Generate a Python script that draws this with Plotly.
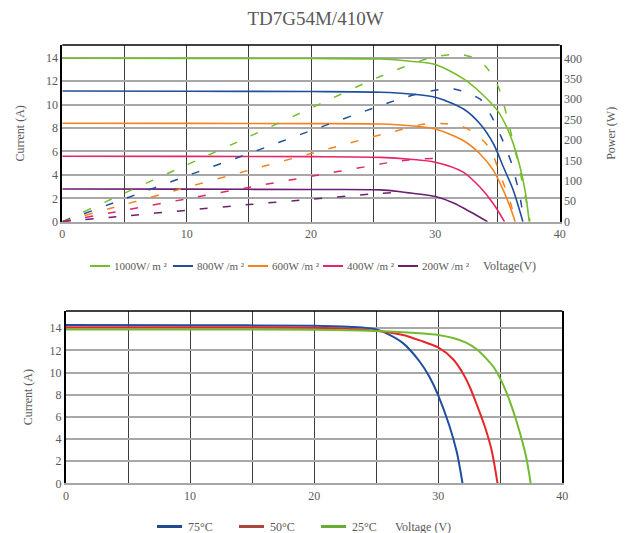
import plotly.graph_objects as go

FONT = "Liberation Serif"
TXT = "#595959"

# ---------------- Top chart: irradiance ----------------
irr_names = ["1000W/ m ²", "800W /m ²", "600W /m ²", "400W /m ²", "200W /m ²"]
irr_colors = ["#76bd2c", "#1f4e9c", "#f5821f", "#e6246e", "#6c1f70"]

# I-V curves (voltage V, current A)
iv_v_1000 = [0, 10, 20, 25.6, 28, 30, 32.27, 33.6, 35, 35.75, 36.28, 36.82, 37.22, 37.55]
iv_i_1000 = [13.97, 13.96, 13.94, 13.9, 13.71, 13.43, 12.2, 11.06, 9.49, 8.06, 6.63, 4.63, 2.63, 0]
iv_v_800 = [0, 10, 20, 25.6, 28, 30, 32.27, 33.6, 34.68, 35.48, 36.28, 37.04]
iv_i_800 = [11.17, 11.15, 11.12, 11.06, 10.91, 10.63, 9.63, 8.35, 6.64, 4.65, 2.65, 0]
iv_v_600 = [0, 10, 20, 25.6, 28, 30, 32.27, 33.6, 34.68, 35.48, 36.02, 36.42]
iv_i_600 = [8.41, 8.4, 8.38, 8.35, 8.2, 7.92, 6.92, 5.79, 4.36, 2.65, 1.23, 0]
iv_v_400 = [0, 10, 20, 25.6, 28, 30, 32.27, 33.6, 34.68, 35.56]
iv_i_400 = [5.59, 5.58, 5.56, 5.5, 5.34, 5.08, 4.22, 2.94, 1.51, 0]
iv_v_200 = [0, 10, 20, 25.6, 27.2, 28, 30, 31.47, 32.8, 34.2]
iv_i_200 = [2.79, 2.78, 2.75, 2.72, 2.56, 2.45, 2.15, 1.6, 0.85, 0]

# P-V curves (voltage V, power W)
pv_v_1000 = [0, 5, 10, 15, 20, 25.6, 29.6, 31.87, 33.34, 34.1, 34.68, 35.08, 35.48, 35.88,
             36.28, 36.68, 36.95, 37.22, 37.5, 37.6]
pv_p_1000 = [0, 70, 139, 208, 278, 356, 401, 410, 398, 378, 353, 329, 290, 243,
             192, 140, 103, 64, 22, 0]
pv_v_800 = [0, 5, 10, 15, 20, 25, 27.3, 29.3, 31.5, 33.6, 34.1, 34.5, 34.9, 35.3,
            35.75, 36.15, 36.42, 36.7, 36.95, 37.1]
pv_p_800 = [0, 56, 112, 167, 223, 278, 302, 318, 325, 300, 280, 259, 235, 207,
            174, 141, 110, 76, 36, 0]
pv_v_600 = [0, 5, 10, 15, 20, 25, 26.7, 29.1, 30.8, 32, 33, 34.1, 34.7, 35.1, 35.5,
            35.9, 36.15, 36.42]
pv_p_600 = [0, 42, 84, 126, 167, 208, 221, 239, 240, 235, 220, 190, 158, 125, 92,
            60, 35, 0]
pv_v_400 = [0, 5, 10, 15, 20, 25, 26.1, 28.1, 30.1, 30.6]
pv_p_400 = [0, 28, 56, 84, 111, 138, 144, 152, 155, 155]
pv_v_200 = [0, 5, 10, 15, 20, 25, 27.3]
pv_p_200 = [0, 14, 28, 42, 55, 68, 72]

iv_sets = [(iv_v_1000, iv_i_1000), (iv_v_800, iv_i_800), (iv_v_600, iv_i_600),
           (iv_v_400, iv_i_400), (iv_v_200, iv_i_200)]
pv_sets = [(pv_v_1000, pv_p_1000), (pv_v_800, pv_p_800), (pv_v_600, pv_p_600),
           (pv_v_400, pv_p_400), (pv_v_200, pv_p_200)]

# ---------------- Bottom chart: temperature ----------------
temp_names = ["75°C", "50°C", "25°C"]
temp_colors = ["#1f4ea0", "#e8262a", "#72bb2e"]
temp_legend_colors = ["#23498f", "#a9463f", "#68ad33"]

t_v_75 = [0, 10, 20, 23, 25, 26, 27.16, 28.5, 29.3, 30, 30.9, 31.5, 31.96]
t_i_75 = [14.3, 14.28, 14.22, 14.12, 13.9, 13.45, 12.66, 11.0, 9.6, 7.95, 5.2, 2.8, 0]
t_v_50 = [0, 10, 20, 24.46, 27.16, 28.78, 30, 31.2, 32.03, 32.57, 33.1, 33.78, 34.3, 34.78]
t_i_50 = [14.1, 14.1, 14.05, 13.82, 13.4, 12.8, 12.27, 11.2, 9.85, 8.63, 7.13, 5.04, 3.0, 0]
t_v_25 = [0, 10, 20, 24.46, 28.5, 30, 31.2, 32.2, 33.1, 33.8, 34.46, 35, 35.54, 36.08,
          36.6, 37.1, 37.45]
t_i_25 = [13.9, 13.9, 13.86, 13.78, 13.55, 13.4, 13.12, 12.72, 12.1, 11.35, 10.5, 9.45,
          8.1, 6.4, 4.5, 2.3, 0]
temp_sets = [(t_v_75, t_i_75), (t_v_50, t_i_50), (t_v_25, t_i_25)]

fig = go.Figure()

for (v, i), name, col in zip(iv_sets, irr_names, irr_colors):
    fig.add_trace(go.Scatter(x=v, y=i, mode="lines", name=name, showlegend=False,
                             line=dict(color=col, width=1.6, shape="spline", smoothing=0.8),
                             xaxis="x", yaxis="y"))
for (v, p), col in zip(pv_sets, irr_colors):
    fig.add_trace(go.Scatter(x=v, y=p, mode="lines", showlegend=False,
                             line=dict(color=col, width=1.5, dash="8px,15px",
                                       shape="spline", smoothing=0.8),
                             xaxis="x", yaxis="y2"))
for (v, i), name, col in zip(temp_sets, temp_names, temp_colors):
    fig.add_trace(go.Scatter(x=v, y=i, mode="lines", name=name, showlegend=False,
                             line=dict(color=col, width=2, shape="spline", smoothing=0.8),
                             xaxis="x2", yaxis="y3"))

# The page body has an 8px margin, so the figure is sized to fit the window
OFF = 8
W, H = 631 - OFF, 533 - OFF


def PX(x):
    return (x - OFF) / W


def PY(y):
    return 1 - (y - OFF) / H


LF = dict(family=FONT, size=11, color=TXT)
tickf = dict(family=FONT, size=12, color=TXT)
vgrid = "#3c3c3c"
hgrid = "#a8a8a8"


def xax(domain, anchor):
    return dict(domain=domain, anchor=anchor, range=[0, 40], automargin=False,
                tickvals=[0, 10, 20, 30, 40], ticks="", tickfont=tickf,
                showgrid=True, gridcolor=vgrid, gridwidth=1,
                minor=dict(dtick=5, showgrid=True, gridcolor=vgrid, gridwidth=1),
                showline=True, linecolor="#a6a6a6", linewidth=2, zeroline=False,
                fixedrange=True)


top_x = [PX(62.3), PX(559.7)]
top_y = [PY(221.7), PY(45)]
bot_x = [PX(66), PX(562.3)]
bot_y = [PY(483.3), PY(311)]

# Legend built from shapes (swatches) + annotations (labels), positioned in pixels
top_leg_swatch_x = [90, 173, 248, 323, 398]
top_leg_y = 266
bot_leg_swatch_x = [157, 239, 321]
bot_leg_y = 526.5

shapes = [
    dict(type="line", xref="x domain", yref="y domain", x0=0, x1=1, y0=1, y1=1,
         line=dict(color="black", width=1.5)),
    dict(type="line", xref="x2 domain", yref="y3 domain", x0=0, x1=1, y0=1, y1=1,
         line=dict(color="black", width=1.5)),
]
annotations = []
for sx, name, col in zip(top_leg_swatch_x, irr_names, irr_colors):
    shapes.append(dict(type="line", xref="paper", yref="paper",
                       x0=PX(sx), x1=PX(sx + 20), y0=PY(top_leg_y), y1=PY(top_leg_y),
                       line=dict(color=col, width=2)))
    annotations.append(dict(text=name, x=PX(sx + 22), y=PY(top_leg_y),
                            xref="paper", yref="paper", xanchor="left", yanchor="middle",
                            showarrow=False, font=LF))
annotations.append(dict(text="Voltage(V)", x=PX(481), y=PY(top_leg_y),
                        xref="paper", yref="paper", xanchor="left", yanchor="middle",
                        showarrow=False, font=dict(family=FONT, size=12, color=TXT)))
for sx, name, col in zip(bot_leg_swatch_x, temp_names, temp_legend_colors):
    shapes.append(dict(type="line", xref="paper", yref="paper",
                       x0=PX(sx), x1=PX(sx + 25), y0=PY(bot_leg_y), y1=PY(bot_leg_y),
                       line=dict(color=col, width=3)))
    annotations.append(dict(text=name, x=PX(sx + 29), y=PY(bot_leg_y),
                            xref="paper", yref="paper", xanchor="left", yanchor="middle",
                            showarrow=False, font=dict(family=FONT, size=12, color=TXT)))
annotations.append(dict(text="Voltage (V)", x=PX(393), y=PY(bot_leg_y),
                        xref="paper", yref="paper", xanchor="left", yanchor="middle",
                        showarrow=False, font=dict(family=FONT, size=12, color=TXT)))

fig.update_layout(
    width=W, height=H,
    margin=dict(l=0, r=0, t=0, b=0, autoexpand=False),
    paper_bgcolor="white", plot_bgcolor="white",
    showlegend=False,
    font=dict(family=FONT, size=12, color=TXT),
    title=dict(text="TD7G54M/410W", x=PX(315.5), xanchor="center", y=PY(18),
               yanchor="middle", yref="paper", automargin=False,
               font=dict(family=FONT, size=19, color=TXT)),
    xaxis=xax(top_x, "y"),
    yaxis=dict(domain=top_y, anchor="x", range=[0, 15.1], dtick=2, tickfont=tickf,
               automargin=False,
               showgrid=True, gridcolor=hgrid, gridwidth=1.5, zeroline=False,
               showline=True, linecolor="black", linewidth=2, ticks="",
               title=dict(text="Current (A)", font=dict(family=FONT, size=12, color=TXT),
                          standoff=19)),
    yaxis2=dict(overlaying="y", side="right", anchor="x", range=[0, 432.6], dtick=50,
                automargin=False,
                tickfont=tickf, showgrid=False, zeroline=False,
                showline=True, linecolor="black", linewidth=2, ticks="",
                title=dict(text="Power (W)", font=dict(family=FONT, size=12, color=TXT),
                           standoff=26)),
    xaxis2=xax(bot_x, "y3"),
    yaxis3=dict(domain=bot_y, anchor="x2", range=[0, 15.56], dtick=2, tickfont=tickf,
                automargin=False,
                showgrid=True, gridcolor=hgrid, gridwidth=1.5, zeroline=False,
                showline=True, linecolor="black", linewidth=2, mirror=True, ticks="",
                title=dict(text="Current (A)", font=dict(family=FONT, size=12, color=TXT),
                           standoff=14)),
    shapes=shapes,
    annotations=annotations,
)

fig.write_html("out.html")
